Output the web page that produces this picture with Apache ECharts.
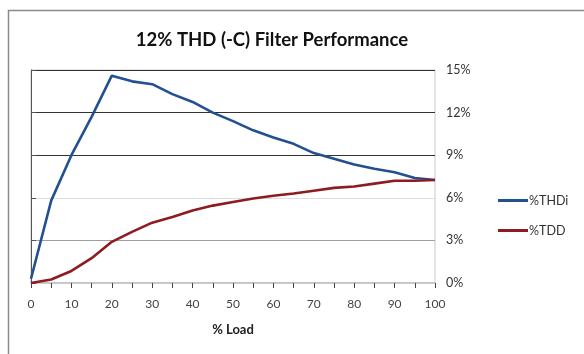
<!DOCTYPE html>
<html><head><meta charset="utf-8">
<script src="https://cdn.jsdelivr.net/npm/echarts@6/dist/echarts.min.js"></script>
<style>html,body{margin:0;padding:0;background:#fff}#c{width:584px;height:354px}</style>
</head><body><div id="c"></div>
<script>
const loadPct = [0,5,10,15,20,25,30,35,40,45,50,55,60,65,70,75,80,85,90,95,100];
const thdi = [0.3,5.8,9.0,11.7,14.6,14.2,14.0,13.3,12.75,12.0,11.4,10.75,10.25,9.8,9.15,8.75,8.35,8.05,7.8,7.4,7.25];
const tdd  = [0.0,0.25,0.85,1.75,2.9,3.6,4.25,4.65,5.1,5.45,5.7,5.95,6.15,6.3,6.5,6.7,6.8,7.0,7.2,7.2,7.25];
const seriesNames = ['%THDi','%TDD'];
const titleText = '12% THD (-C) Filter Performance';
const xAxisName = '% Load';

const font = 'Lato, "Open Sans", sans-serif';
const chart = echarts.init(document.getElementById('c'), null, {renderer:'canvas'});
chart.setOption({
  animation:false,
  backgroundColor:'#fff',
  title:{text:titleText,left:267,textAlign:'center',top:26,
    textStyle:{fontFamily:font,fontSize:18.5,fontWeight:'bold',color:'#111'}},
  graphic:[{type:'rect',shape:{x:8.5,y:10.5,width:700,height:500},
    style:{fill:'none',stroke:'#8a8a8a',lineWidth:1.5},silent:true,z:-1}],
  legend:{orient:'vertical',left:493,top:189,itemGap:17,itemWidth:30,itemHeight:3,
    icon:'rect',data:seriesNames,
    textStyle:{fontFamily:font,fontSize:12.5,color:'#333',padding:[0,0,0,-4]}},
  grid:{left:31,right:149,top:70,bottom:71,show:true,borderColor:'#c8c8c8',borderWidth:1},
  xAxis:{type:'value',min:0,max:100,interval:5,
    name:xAxisName,nameLocation:'middle',nameGap:40,
    nameTextStyle:{fontFamily:font,fontSize:13,fontWeight:'bold',color:'#222'},
    axisLine:{show:true,lineStyle:{color:'#bbbbbb',width:1.5}},
    axisTick:{show:true,length:5,lineStyle:{color:'#444'}},
    axisLabel:{fontFamily:font,fontSize:12,color:'#444',margin:15,
      formatter:v=>(v%10===0?String(v):'')},
    splitLine:{show:false}},
  yAxis:{type:'value',position:'right',min:0,max:15,interval:3,
    axisLine:{show:true,lineStyle:{color:'#555',width:1}},
    axisTick:{show:true,length:5,lineStyle:{color:'#555'}},
    axisLabel:{fontFamily:font,fontSize:12.5,color:'#333',margin:11,formatter:'{value}%'},
    splitLine:{show:true,lineStyle:{color:['#ffffff','#a0a0a0','#dddddd','#333333','#333333','#333333'],width:1.2}}},
  series:[
    {name:seriesNames[0],type:'line',data:loadPct.map((x,i)=>[x,thdi[i]]),
      showSymbol:false,lineStyle:{color:'#23508f',width:2.6},itemStyle:{color:'#23508f'}},
    {name:seriesNames[1],type:'line',data:loadPct.map((x,i)=>[x,tdd[i]]),
      showSymbol:false,lineStyle:{color:'#8e1b1f',width:2.6},itemStyle:{color:'#8e1b1f'}}
  ]
});
</script></body></html>
